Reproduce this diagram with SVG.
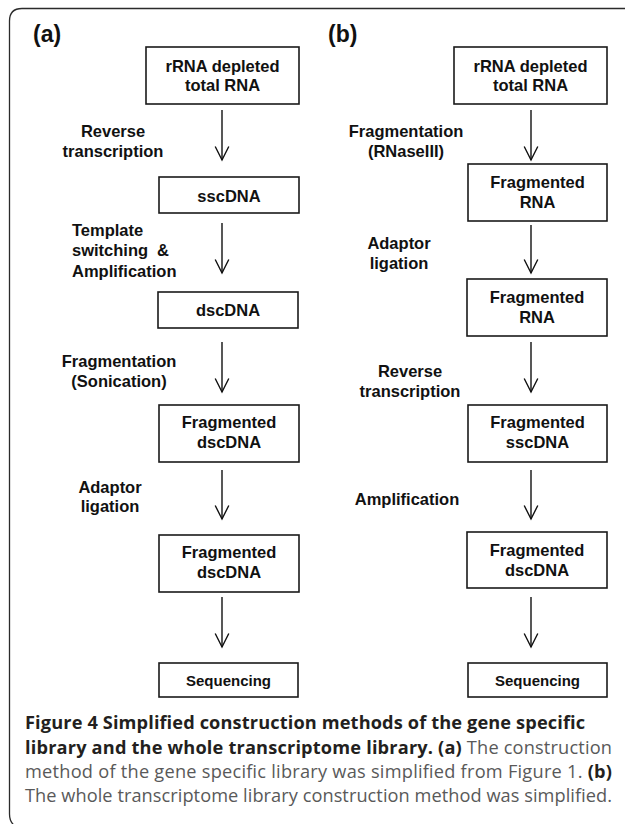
<svg xmlns="http://www.w3.org/2000/svg" width="625" height="824" viewBox="0 0 625 824">
<defs>
<style>
.frame{fill:none;stroke:#2b2b2b;stroke-width:1.3}
.box{fill:#fff;stroke:#1a1a1a;stroke-width:1.6}
.t{font-family:"Liberation Sans",Arial,sans-serif;font-weight:bold;font-size:16.5px;fill:#111;text-anchor:middle}
.tl{font-family:"Liberation Sans",Arial,sans-serif;font-weight:bold;font-size:16.5px;fill:#111}
.seq{font-size:15px}
.panel{font-family:"Liberation Sans",Arial,sans-serif;font-weight:bold;font-size:23px;fill:#111}
.conn line{stroke:#111;stroke-width:1.4;marker-end:url(#arr)}
.cap{font-family:"Open Sans","Noto Sans",sans-serif;font-size:18.2px;fill:#595959}
.cap .b{font-weight:bold;fill:#231f20}
</style>
<marker id="arr" markerUnits="userSpaceOnUse" markerWidth="20" markerHeight="20" refX="0" refY="0" orient="auto" overflow="visible">
<path d="M-13.5,-6.8 L0,0 L-13.5,6.8" fill="none" stroke="#111" stroke-width="1.4"/>
</marker>
</defs>
<rect width="625" height="824" fill="#fff"/>
<path class="frame" d="M625,8.5 H22 Q9.5,8.5 9.5,21 V814 Q9.5,822 15,826"/>

<text class="panel" x="33" y="42">(a)</text>
<text class="panel" x="328" y="42">(b)</text>

<g class="conn">
<line x1="222" y1="110" x2="222" y2="160"/>
<line x1="222" y1="223" x2="222" y2="273"/>
<line x1="222" y1="342" x2="222" y2="392"/>
<line x1="222" y1="470" x2="222" y2="519"/>
<line x1="222" y1="597" x2="222" y2="647"/>
<line x1="531" y1="110" x2="531" y2="160"/>
<line x1="531" y1="225" x2="531" y2="273"/>
<line x1="531" y1="342" x2="531" y2="392"/>
<line x1="531" y1="470" x2="531" y2="519"/>
<line x1="531" y1="597" x2="531" y2="647"/>
</g>

<g id="step-labels">
<text class="t" x="113"><tspan x="113" y="137">Reverse</tspan><tspan x="113" y="157">transcription</tspan></text>
<text class="tl"><tspan x="72" y="236">Template</tspan><tspan x="72" y="256">switching</tspan><tspan x="157" y="256">&amp;</tspan><tspan x="72" y="277">Amplification</tspan></text>
<text class="t"><tspan x="119" y="367">Fragmentation</tspan><tspan x="119" y="387">(Sonication)</tspan></text>
<text class="t"><tspan x="110" y="493">Adaptor</tspan><tspan x="110" y="512">ligation</tspan></text>
<text class="t"><tspan x="406" y="137">Fragmentation</tspan><tspan x="406" y="157">(RNaseIII)</tspan></text>
<text class="t"><tspan x="399" y="249">Adaptor</tspan><tspan x="399" y="269">ligation</tspan></text>
<text class="t"><tspan x="410" y="377">Reverse</tspan><tspan x="410" y="397">transcription</tspan></text>
<text class="t" x="407" y="505">Amplification</text>
</g>

<g id="a1"><rect class="box" x="146" y="47" width="153" height="57"/><text class="t"><tspan x="222.5" y="72">rRNA depleted</tspan><tspan x="222.5" y="91">total RNA</tspan></text></g>
<g id="a2"><rect class="box" x="159" y="177" width="140" height="36"/><text class="t" x="229" y="202">sscDNA</text></g>
<g id="a3"><rect class="box" x="158" y="292" width="140" height="36"/><text class="t" x="228" y="316">dscDNA</text></g>
<g id="a4"><rect class="box" x="159" y="405" width="140" height="57"/><text class="t"><tspan x="229" y="428">Fragmented</tspan><tspan x="229" y="448">dscDNA</tspan></text></g>
<g id="a5"><rect class="box" x="159" y="535" width="140" height="57"/><text class="t"><tspan x="229" y="558">Fragmented</tspan><tspan x="229" y="578">dscDNA</tspan></text></g>
<g id="a6"><rect class="box" x="159" y="663" width="139" height="34"/><text class="t seq" x="228.5" y="686">Sequencing</text></g>

<g id="b1"><rect class="box" x="454" y="47" width="153" height="57"/><text class="t"><tspan x="530.5" y="72">rRNA depleted</tspan><tspan x="530.5" y="91">total RNA</tspan></text></g>
<g id="b2"><rect class="box" x="468" y="164" width="139" height="57"/><text class="t"><tspan x="537.5" y="188">Fragmented</tspan><tspan x="537.5" y="208">RNA</tspan></text></g>
<g id="b3"><rect class="box" x="467" y="279" width="140" height="57"/><text class="t"><tspan x="537" y="303">Fragmented</tspan><tspan x="537" y="323">RNA</tspan></text></g>
<g id="b4"><rect class="box" x="468" y="405" width="139" height="57"/><text class="t"><tspan x="537.5" y="428">Fragmented</tspan><tspan x="537.5" y="448">sscDNA</tspan></text></g>
<g id="b5"><rect class="box" x="467" y="532" width="140" height="56"/><text class="t"><tspan x="537" y="556">Fragmented</tspan><tspan x="537" y="576">dscDNA</tspan></text></g>
<g id="b6"><rect class="box" x="468" y="663" width="139" height="34"/><text class="t seq" x="537.5" y="686">Sequencing</text></g>

<g id="caption">
<text class="cap" x="25" y="729" textLength="560" lengthAdjust="spacing"><tspan class="b">Figure 4 Simplified construction methods of the gene specific</tspan></text>
<text class="cap" x="25" y="753.5" textLength="587" lengthAdjust="spacing"><tspan class="b">library and the whole transcriptome library. (a)</tspan> The construction</text>
<text class="cap" x="25" y="778" textLength="587" lengthAdjust="spacing">method of the gene specific library was simplified from Figure 1. <tspan class="b">(b)</tspan></text>
<text class="cap" x="25" y="802" textLength="587" lengthAdjust="spacing">The whole transcriptome library construction method was simplified.</text>
</g>
</svg>
